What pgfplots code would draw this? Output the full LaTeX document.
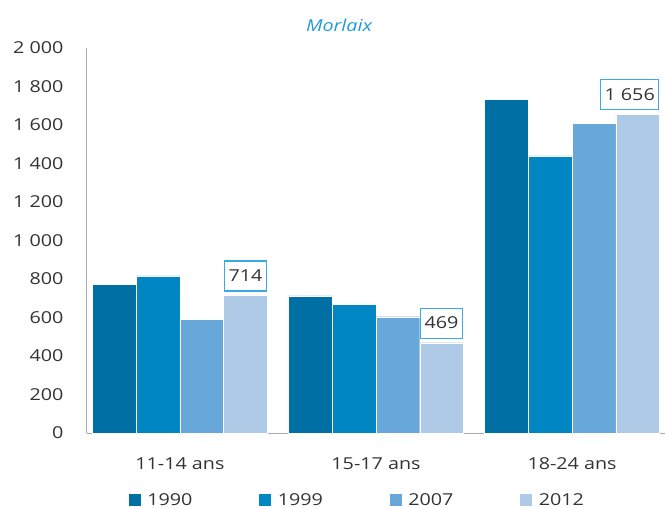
\documentclass[border=0pt]{standalone}
\usepackage{pgfplots}
\pgfplotsset{compat=1.18}
\usepackage{fontspec}
\setmainfont[FakeStretch=1.2]{Open Sans}
\usetikzlibrary{calc}
\definecolor{cA}{RGB}{0,111,163}
\definecolor{cB}{RGB}{0,134,195}
\definecolor{cC}{RGB}{104,167,217}
\definecolor{cD}{RGB}{175,202,230}
\definecolor{boxblue}{RGB}{60,170,225}
\definecolor{titleblue}{RGB}{33,155,215}
\definecolor{axisgray}{RGB}{170,170,170}
\definecolor{labelgray}{RGB}{51,51,51}

\pgfplotsset{
  sq legend/.style={legend image code/.code={\fill[##1] (0bp,-6.5bp) rectangle (13bp,6.5bp);
    \path (17bp,0bp);}},
}

\begin{document}
\begin{tikzpicture}
\begin{axis}[
  name=ax,
  scale only axis, width=578bp, height=385bp,
  xmin=-0.474, xmax=2.474, ymin=0, ymax=2000,
  ybar=0pt, bar width=0.223,
  axis x line*=bottom, axis y line*=left,
  axis line style={-, draw=axisgray, line width=1bp},
  xtick={0,1,2}, xticklabels={11-14 ans, 15-17 ans, 18-24 ans},
  ytick={0,200,...,2000},
  major tick length=0pt,
  tick label style={font=\fontsize{16.5}{19}\selectfont, text=labelgray},
  yticklabel style={xshift=-20bp},
  xticklabel style={yshift=-21bp},
  /pgf/number format/assume math mode=true,
  /pgf/number format/1000 sep={\ },
  /pgf/number format/fixed,
  /pgf/number format/precision=0,
  clip=false,
  legend columns=4,
  legend style={at={(0.467,-0.174)}, anchor=center, draw=none, fill=none,
    font=\fontsize{16.5}{19}\selectfont, text=labelgray,
    /tikz/every even column/.append style={column sep=64bp}},
]
\addplot[fill=cA, draw=white, line width=0.4bp, sq legend]
  coordinates {(0,774) (1,712) (2,1732)};
\addlegendentry{1990}
\addplot[fill=cB, draw=white, line width=0.4bp, sq legend]
  coordinates {(0,816) (1,670) (2,1439)};
\addlegendentry{1999}
\addplot[fill=cC, draw=white, line width=0.4bp, sq legend]
  coordinates {(0,592) (1,604) (2,1610)};
\addlegendentry{2007}
\addplot[fill=cD, draw=white, line width=0.4bp, sq legend,
  nodes near coords,
  nodes near coords style={draw=boxblue, line width=1.2bp, fill=white, text=labelgray,
    inner xsep=4bp, minimum height=30bp, anchor=south, yshift=4bp,
    xshift={ifthenelse(\coordindex==2,-8,0)},
    font=\fontsize{16.5}{19}\selectfont}]
  coordinates {(0,714) (1,469) (2,1656)};
\addlegendentry{2012}
\end{axis}
\node[font=\itshape\fontsize{16.5}{19}\selectfont, text=titleblue]
  at ($(ax.north west)+(252bp,23bp)$) {Morlaix};
\pgfresetboundingbox
\path ($(ax.south west)+(-87bp,-76bp)$) rectangle ($(ax.north east)+(0bp,48bp)$);
\end{tikzpicture}
\end{document}
